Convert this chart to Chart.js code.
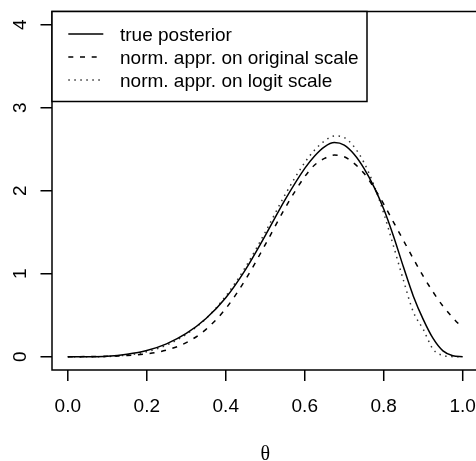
<!DOCTYPE html>
<html>
<head>
<meta charset="utf-8">
<script src="https://cdn.jsdelivr.net/npm/chart.js@4.4.1/dist/chart.umd.min.js"></script>
<style>
  html, body { margin: 0; padding: 0; background: #fff; overflow: hidden; }
  canvas { display: block; }
</style>
</head>
<body>
<canvas id="c" width="490" height="461" style="width:490px;height:461px"></canvas>
<script>
// ---- data ----
const theta = [0, 0.05, 0.1, 0.15, 0.2, 0.25, 0.3, 0.35, 0.4, 0.45, 0.5, 0.55, 0.6, 0.625, 0.65, 0.675, 0.7, 0.725, 0.75, 0.775, 0.8, 0.825, 0.85, 0.875, 0.9, 0.925, 0.95, 0.975, 1.0];
const truePosterior = [0, 0.0005, 0.006, 0.03, 0.075, 0.155, 0.28, 0.46, 0.71, 1.05, 1.46, 1.89, 2.27, 2.42, 2.53, 2.58, 2.55, 2.44, 2.27, 2.05, 1.78, 1.45, 1.08, 0.73, 0.45, 0.22, 0.07, 0.012, 0];
const normOriginal = [0.0005, 0.0016, 0.005, 0.014, 0.035, 0.08, 0.17, 0.33, 0.58, 0.93, 1.35, 1.79, 2.17, 2.31, 2.39, 2.43, 2.41, 2.33, 2.21, 2.04, 1.84, 1.62, 1.40, 1.18, 0.97, 0.78, 0.61, 0.47, 0.345];
const normLogit = [0, 0.0002, 0.003, 0.02, 0.06, 0.14, 0.27, 0.46, 0.73, 1.08, 1.50, 1.95, 2.34, 2.49, 2.60, 2.66, 2.64, 2.53, 2.34, 2.07, 1.73, 1.33, 0.92, 0.54, 0.33, 0.09, 0.015, 0.001, 0];

const seriesNames = ["true posterior", "norm. appr. on original scale", "norm. appr. on logit scale"];
const xTicks = [0, 0.2, 0.4, 0.6, 0.8, 1.0];
const xTickLabels = ["0.0", "0.2", "0.4", "0.6", "0.8", "1.0"];
const yTicks = [0, 1, 2, 3, 4];
const yTickLabels = ["0", "1", "2", "3", "4"];
const xTitle = "\u03B8";

// ---- styling ----
const FONT = '19px "Liberation Sans", Arial, Helvetica, sans-serif';
const dashes = [[], [5, 6.7], [1.5, 4.5]];
const colors = ['#000', '#000', '#333'];

function pts(ys) { return theta.map((t, i) => ({ x: t, y: ys[i] })); }
const allSeries = [truePosterior, normOriginal, normLogit];

const rAxes = {
  id: 'rAxes',
  afterDraw(chart) {
    const ctx = chart.ctx, a = chart.chartArea;
    const xs = chart.scales.x, ys = chart.scales.y;
    ctx.save();
    ctx.strokeStyle = '#000';
    ctx.fillStyle = '#000';
    ctx.lineWidth = 1.5;
    // plot box
    ctx.strokeRect(a.left, a.top, a.right - a.left, a.bottom - a.top);
    // x ticks
    ctx.beginPath();
    xTicks.forEach(v => {
      const px = xs.getPixelForValue(v);
      ctx.moveTo(px, a.bottom); ctx.lineTo(px, a.bottom + 11);
    });
    // y ticks
    yTicks.forEach(v => {
      const py = ys.getPixelForValue(v);
      ctx.moveTo(a.left, py); ctx.lineTo(a.left - 11.5, py);
    });
    ctx.stroke();
    ctx.font = FONT;
    ctx.textAlign = 'center';
    ctx.textBaseline = 'alphabetic';
    xTicks.forEach((v, i) => {
      ctx.fillText(xTickLabels[i], xs.getPixelForValue(v), 411.5);
    });
    yTicks.forEach((v, i) => {
      ctx.save();
      ctx.translate(25.5, ys.getPixelForValue(v));
      ctx.rotate(-Math.PI / 2);
      ctx.fillText(yTickLabels[i], 0, 0);
      ctx.restore();
    });
    // x title
    ctx.font = '20px "Liberation Serif", "DejaVu Serif", serif';
    ctx.fillText(xTitle, (a.left + a.right) / 2, 460);
    // legend
    const lx = a.left, ly = a.top, lw = 315, lh = 90;
    ctx.fillStyle = '#fff';
    ctx.fillRect(lx, ly, lw, lh);
    ctx.strokeStyle = '#000';
    ctx.lineWidth = 1.5;
    ctx.strokeRect(lx, ly, lw, lh);
    ctx.font = FONT;
    ctx.textAlign = 'left';
    const rows = [34, 57, 80];
    seriesNames.forEach((name, i) => {
      ctx.beginPath();
      ctx.setLineDash(dashes[i]);
      ctx.strokeStyle = colors[i];
      ctx.lineWidth = 1.5;
      ctx.moveTo(68.3, rows[i]);
      ctx.lineTo(103.3, rows[i]);
      ctx.stroke();
      ctx.setLineDash([]);
      ctx.fillStyle = '#000';
      ctx.fillText(name, 120, rows[i] + 6.5);
    });
    ctx.restore();
  }
};

new Chart(document.getElementById('c'), {
  type: 'line',
  data: {
    datasets: allSeries.map((s, i) => ({
      label: seriesNames[i],
      data: pts(s),
      borderColor: colors[i],
      borderWidth: 1.5,
      borderDash: dashes[i],
      pointRadius: 0,
      fill: false,
      cubicInterpolationMode: 'monotone'
    }))
  },
  options: {
    responsive: false,
    animation: false,
    devicePixelRatio: 1,
    layout: { padding: { left: 52, top: 11.5, right: 11.5, bottom: 91 } },
    plugins: { legend: { display: false }, tooltip: { enabled: false } },
    scales: {
      x: { type: 'linear', min: -0.04, max: 1.04, display: false },
      y: { type: 'linear', min: -0.16, max: 4.16, display: false }
    }
  },
  plugins: [rAxes]
});
</script>
</body>
</html>
